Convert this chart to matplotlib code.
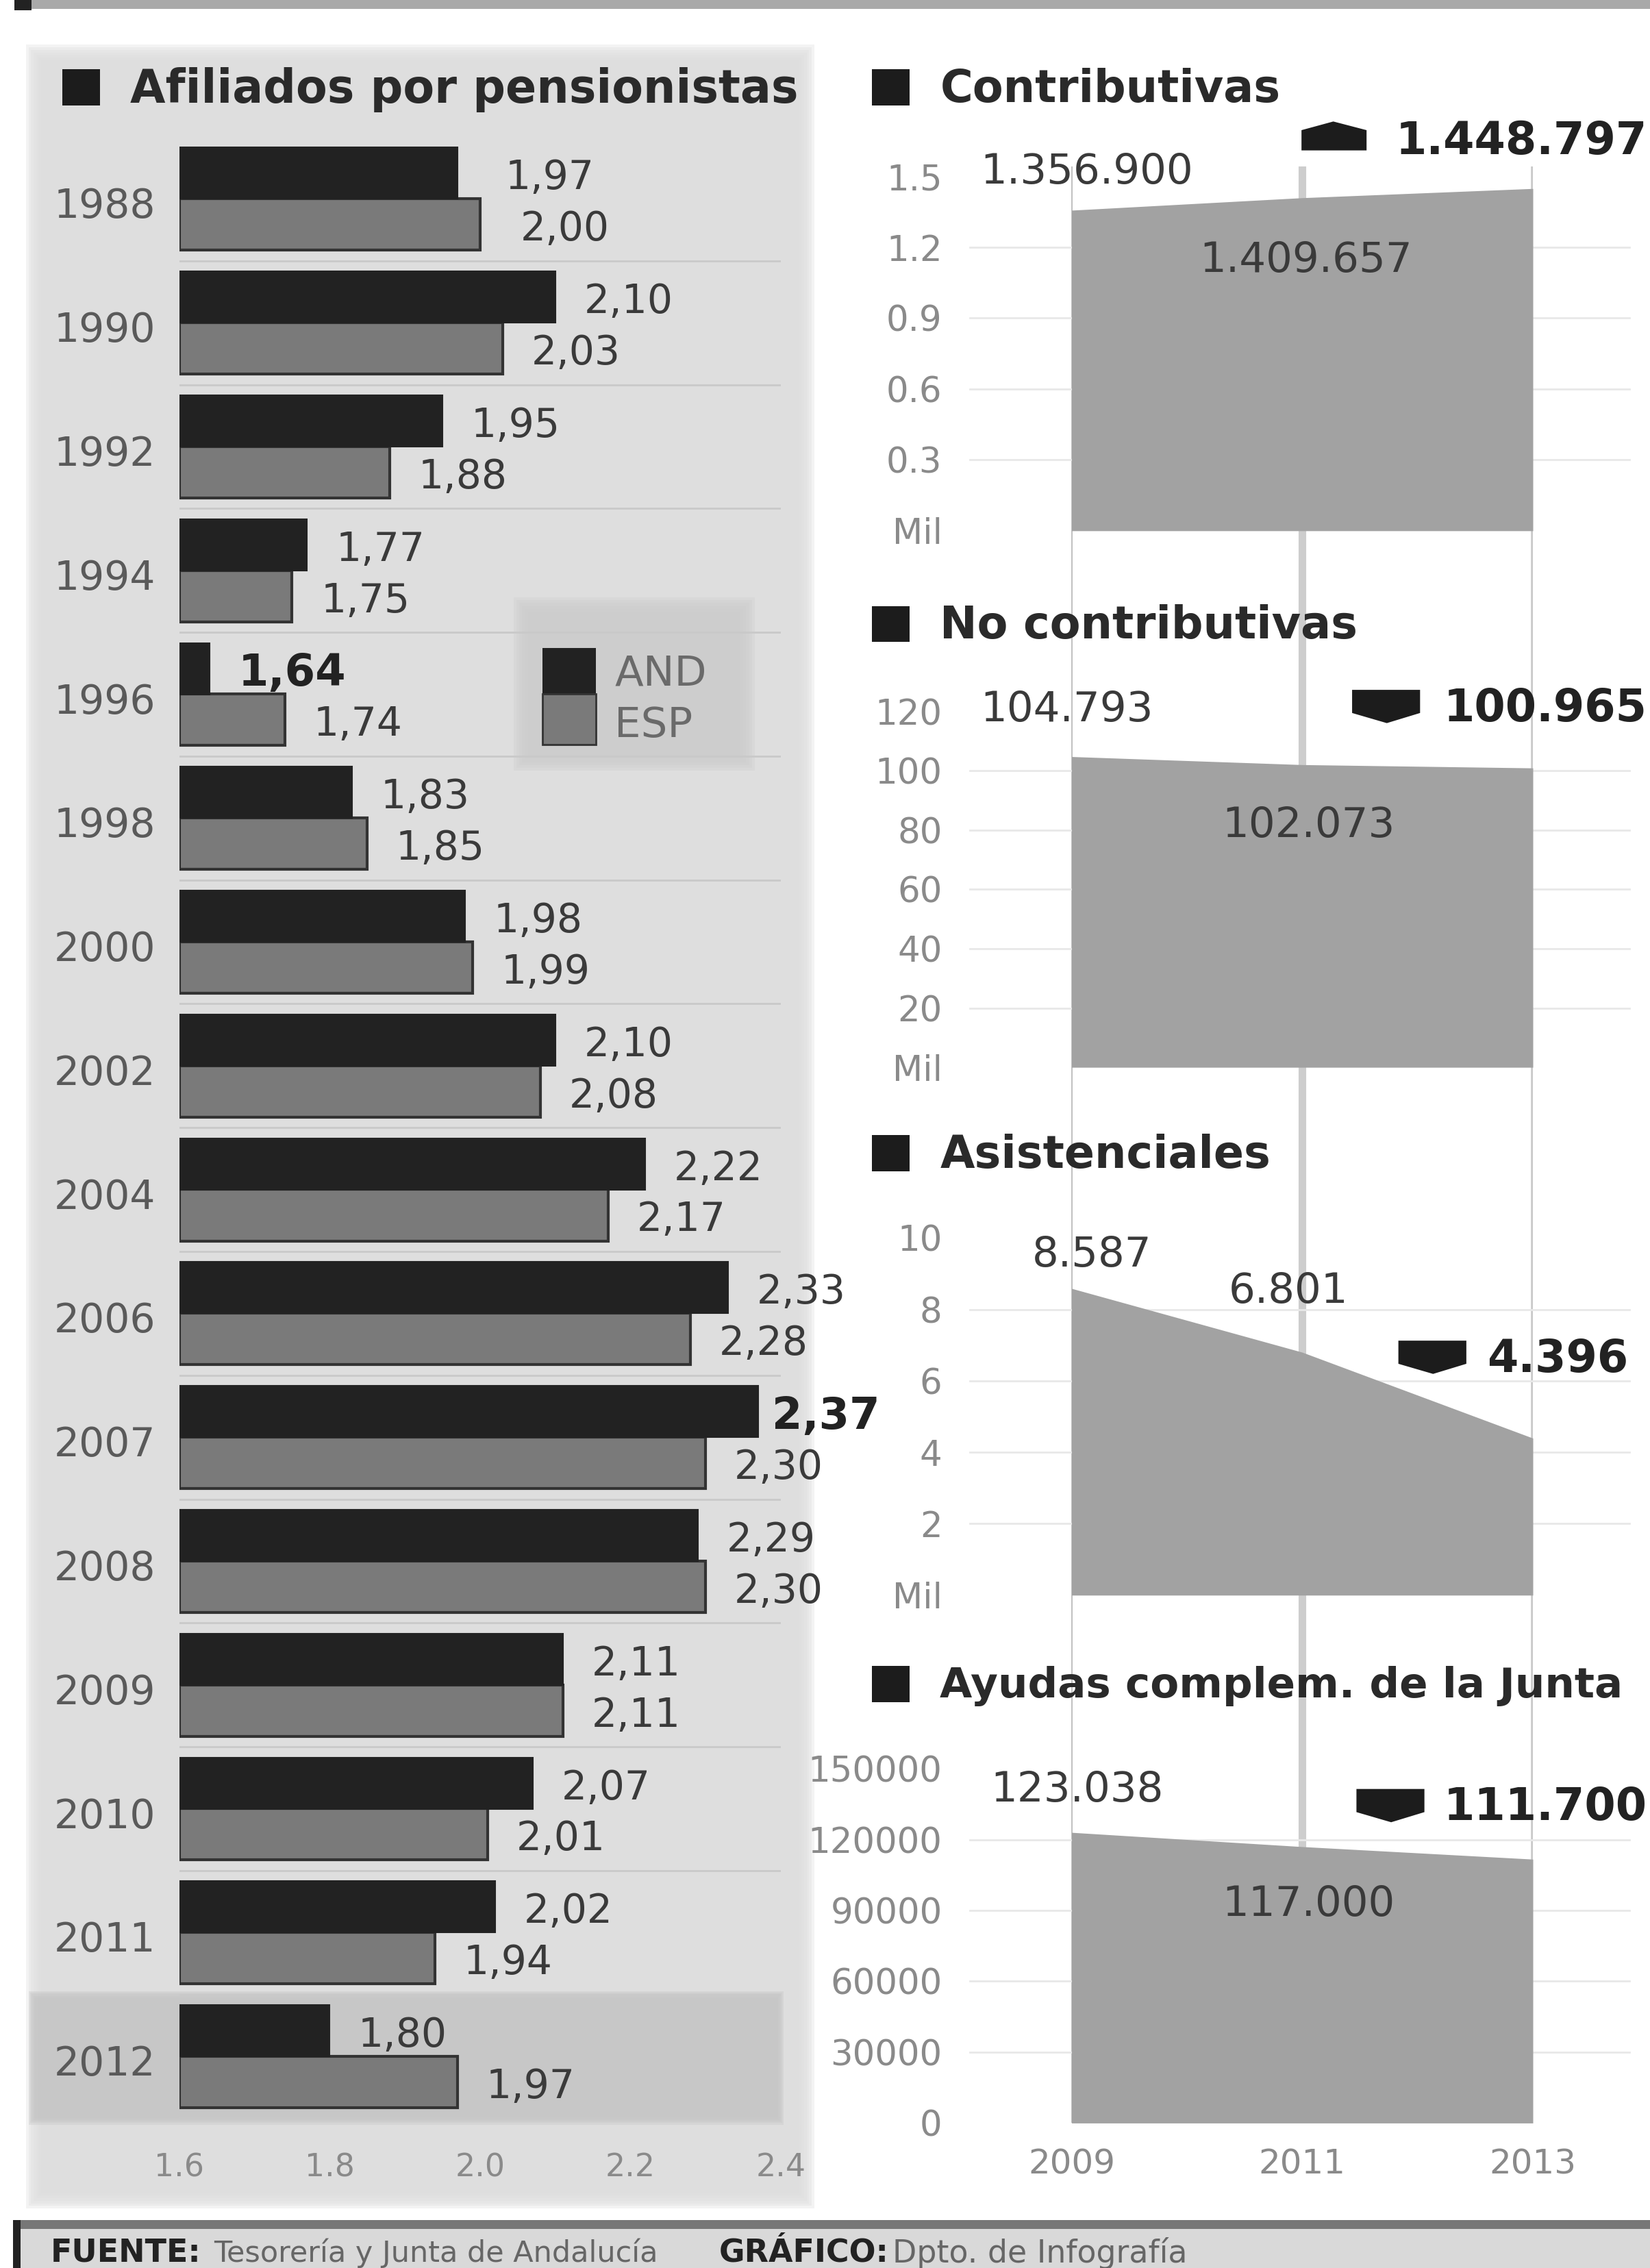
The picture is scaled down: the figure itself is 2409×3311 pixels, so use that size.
import matplotlib
matplotlib.use("Agg")
import matplotlib.pyplot as plt
from matplotlib.patches import Rectangle, Polygon
from matplotlib.transforms import ScaledTranslation

# ---------- data ----------
years = ["1988", "1990", "1992", "1994", "1996", "1998", "2000", "2002",
         "2004", "2006", "2007", "2008", "2009", "2010", "2011", "2012"]
and_values = [1.97, 2.10, 1.95, 1.77, 1.64, 1.83, 1.98, 2.10,
              2.22, 2.33, 2.37, 2.29, 2.11, 2.07, 2.02, 1.80]
esp_values = [2.00, 2.03, 1.88, 1.75, 1.74, 1.85, 1.99, 2.08,
              2.17, 2.28, 2.30, 2.30, 2.11, 2.01, 1.94, 1.97]
bar_ticks = [1.6, 1.8, 2.0, 2.2, 2.4]
bar_ticklabels = ["1.6", "1.8", "2.0", "2.2", "2.4"]

area_years = [2009, 2011, 2013]
contributivas = [1.3569, 1.409657, 1.448797]
no_contributivas = [104.793, 102.073, 100.965]
asistenciales = [8.587, 6.801, 4.396]
ayudas = [123038, 117000, 111700]

contrib_ticks = [0, 0.3, 0.6, 0.9, 1.2, 1.5]
contrib_labels = ["Mil", "0.3", "0.6", "0.9", "1.2", "1.5"]
nocontrib_ticks = [0, 20, 40, 60, 80, 100, 120]
nocontrib_labels = ["Mil", "20", "40", "60", "80", "100", "120"]
asist_ticks = [0, 2, 4, 6, 8, 10]
asist_labels = ["Mil", "2", "4", "6", "8", "10"]
ayudas_ticks = [0, 30000, 60000, 90000, 120000, 150000]
ayudas_labels = ["0", "30000", "60000", "90000", "120000", "150000"]

# ---------- layout helpers ----------
W, H = 2409, 3311
S = 2409 / 1141


def rect(x0, y0, x1, y1):
    """axes rectangle from coordinates in the 1141-wide preview scale"""
    return [x0 * S / W, 1 - y1 * S / H, (x1 - x0) * S / W, (y1 - y0) * S / H]


plt.rcParams["font.family"] = ["DejaVu Sans"]
fig = plt.figure(figsize=(W / 100, H / 100), dpi=100, facecolor="white")

bg = fig.add_axes([0, 0, 1, 1], zorder=0)
bg.set_xlim(0, 1141)
bg.set_ylim(H / S, 0)
bg.axis("off")
top = fig.add_axes([0, 0, 1, 1], zorder=5)
top.set_xlim(0, 1141)
top.set_ylim(H / S, 0)
top.axis("off")
top.patch.set_alpha(0)


def soft_box(x0, y0, x1, y1, color, steps=7, spread=14):
    """rectangle with a soft, faded edge"""
    for k in range(steps):
        d = spread * (1 - k / (steps - 1)) - spread / 2
        bg.add_patch(Rectangle((x0 - d, y0 - d), x1 - x0 + 2 * d, y1 - y0 + 2 * d,
                               fc=color, ec="none", alpha=0.35))


# backgrounds
soft_box(25, 38, 556, 1520, "#dedede", steps=9)
soft_box(22, 1379, 540, 1467, "#c6c6c6", steps=5, spread=4)
bg.add_patch(Rectangle((10, 0), 1131, 6, fc="#a9a9a9", ec="none"))
bg.add_patch(Rectangle((10, 0), 12, 7, fc="#222222", ec="none"))
bg.add_patch(Rectangle((10, 1541), 1131, 60, fc="#d9d9d9", ec="none"))
bg.add_patch(Rectangle((10, 1535), 1131, 6, fc="#777777", ec="none"))
bg.add_patch(Rectangle((9, 1535), 5, 60, fc="#222222", ec="none"))

# ---------- bar panel ----------
ax = fig.add_axes(rect(124, 94.7, 540, 1464.7), zorder=1)
ax.patch.set_alpha(0)
pos = list(range(len(years)))
for i in pos:
    ax.axhline(i + 0.5, color="#c9c9c9", lw=2, zorder=0)
ax.barh([p - 0.207 for p in pos], [v - 1.6 for v in and_values], left=1.6, height=0.415,
        color="#222222", ec="#222222", lw=1.5, zorder=3)
ax.barh([p + 0.207 for p in pos], [v - 1.6 for v in esp_values], left=1.6, height=0.415,
        color="#7a7a7a", ec="#333333", lw=3, zorder=2)
ax.set_xlim(1.6, 2.4)
ax.set_ylim(15.5, -0.5)
ax.set_yticks(pos, years, fontsize=42, color="#5a5a5a")
ax.set_xticks(bar_ticks, bar_ticklabels, fontsize=33, color="#8a8a8a")
ax.tick_params(length=0)
ax.tick_params(axis="y", pad=25)
ax.tick_params(axis="x", pad=36)
shift = ScaledTranslation(0, -4 / 72, fig.dpi_scale_trans)
for lab in ax.get_yticklabels():
    lab.set_transform(lab.get_transform() + shift)
for sp in ax.spines.values():
    sp.set_visible(False)
for i, (a, e) in enumerate(zip(and_values, esp_values)):
    big_a = i in (4, 10)
    off = 50 if i == 0 else (14 if i == 10 else 30)
    ax.annotate(f"{a:.2f}".replace(".", ","), (a, i - 0.207), xytext=(off, -5),
                textcoords="offset points", va="center", ha="left",
                fontsize=46 if big_a else 42, fontweight="bold" if big_a else "normal",
                color="#222222" if big_a else "#3a3a3a", zorder=6)
    ax.annotate(f"{e:.2f}".replace(".", ","), (e, i + 0.207), xytext=(42 if i == 0 else 30, -5),
                textcoords="offset points", va="center", ha="left",
                fontsize=42, color="#3a3a3a", zorder=6)

# legend
soft_box(360, 418, 517, 528, "#cdcdcd", steps=6, spread=10)
top.add_patch(Rectangle((375, 448), 37, 32, fc="#222222", ec="none"))
top.add_patch(Rectangle((375, 480), 37, 35, fc="#7a7a7a", ec="#333333", lw=2))
top.text(425, 466, "AND", fontsize=44, color="#6a6a6a", va="center")
top.text(425, 502, "ESP", fontsize=44, color="#6a6a6a", va="center")


# ---------- area panels ----------
vax = fig.add_axes(rect(741, 115, 1060, 1468), zorder=1)
vax.set_xlim(2009, 2013)
vax.set_ylim(0, 1)
vax.patch.set_alpha(0)
vax.axis("off")
vax.axvline(2009, color="#c2c2c2", lw=3)
vax.axvline(2011, color="#cdcdcd", lw=8)
vax.axvline(2013, color="#c9c9c9", lw=4)


def area_panel(y_top, y_bottom, ymax, values, ticks, labels, xlabels=False):
    a = fig.add_axes(rect(741, y_top, 1060, y_bottom), zorder=2)
    a.patch.set_alpha(0)
    a.set_xlim(2009, 2013)
    a.set_ylim(0, ymax)
    for t in ticks[1:-1]:
        a.plot([2008.12, 2013.84], [t, t], color="#e8e8e8", lw=2, zorder=0, clip_on=False)
    a.fill_between(area_years, values, 0, color="#a2a2a2", lw=0, zorder=2)
    a.set_yticks(ticks, labels, fontsize=37, color="#8a8a8a")
    a.tick_params(length=0)
    a.tick_params(axis="y", pad=136)
    if xlabels:
        a.set_xticks(area_years, [str(y) for y in area_years], fontsize=36, color="#8a8a8a")
        a.tick_params(axis="x", pad=26)
    else:
        a.set_xticks([])
    for sp in a.spines.values():
        sp.set_visible(False)
    return a


area_panel(122, 367, 1.5, contributivas, contrib_ticks, contrib_labels)
area_panel(492, 738, 120, no_contributivas, nocontrib_ticks, nocontrib_labels)
area_panel(856, 1103, 10, asistenciales, asist_ticks, asist_labels)
area_panel(1223, 1468, 150000, ayudas, ayudas_ticks, ayudas_labels, xlabels=True)

# ---------- titles ----------
titles = [(43, 60, 90, "Afiliados por pensionistas", 48), (603, 60, 650, "Contributivas", 47),
          (603, 431, 650, "No contributivas", 47), (603, 797, 650, "Asistenciales", 47),
          (603, 1164, 650, "Ayudas complem. de la Junta", 44)]
for sx, ty, tx, label, fs in titles:
    top.add_patch(Rectangle((sx, ty - 12), 26, 25, fc="#1c1c1c", ec="none"))
    top.text(tx, ty + 2, label, fontsize=fs, fontweight="bold", color="#2a2a2a", va="center", ha="left")

# ---------- value labels ----------
reg = dict(fontsize=44, color="#3a3a3a", va="center")
for x, y, s, ha in [(678, 119, "1.356.900", "left"), (903, 180, "1.409.657", "center"),
                    (678, 491, "104.793", "left"), (905, 571, "102.073", "center"),
                    (755, 868, "8.587", "center"), (891, 893, "6.801", "center"),
                    (685, 1238, "123.038", "left"), (905, 1317, "117.000", "center")]:
    top.text(x, y, s, ha=ha, **reg)
for x, y, s in [(1139, 98, "1.448.797"), (1139, 490, "100.965"),
                (1126, 940, "4.396"), (1139, 1250, "111.700")]:
    top.text(x, y, s, ha="right", fontsize=47, fontweight="bold", color="#222222", va="center")

# direction markers
top.add_patch(Polygon([(900, 104), (900, 90), (922, 84), (945, 90), (945, 104)], fc="#1c1c1c", ec="none"))
for x0, yc in [(935, 488), (967, 938), (938, 1248)]:
    top.add_patch(Polygon([(x0, yc - 11), (x0 + 47, yc - 11), (x0 + 47, yc + 5),
                           (x0 + 24, yc + 12), (x0, yc + 5)], fc="#1c1c1c", ec="none"))

# ---------- footer ----------
top.text(35, 1558, "FUENTE:", fontsize=33, fontweight="bold", color="#222222", va="center")
top.text(148, 1558, "Tesorería y Junta de Andalucía", fontsize=31, color="#666666", va="center")
top.text(497, 1558, "GRÁFICO:", fontsize=33, fontweight="bold", color="#222222", va="center")
top.text(617, 1558, "Dpto. de Infografía", fontsize=33, color="#666666", va="center")

fig.savefig("out.png", dpi=100, facecolor="white")
